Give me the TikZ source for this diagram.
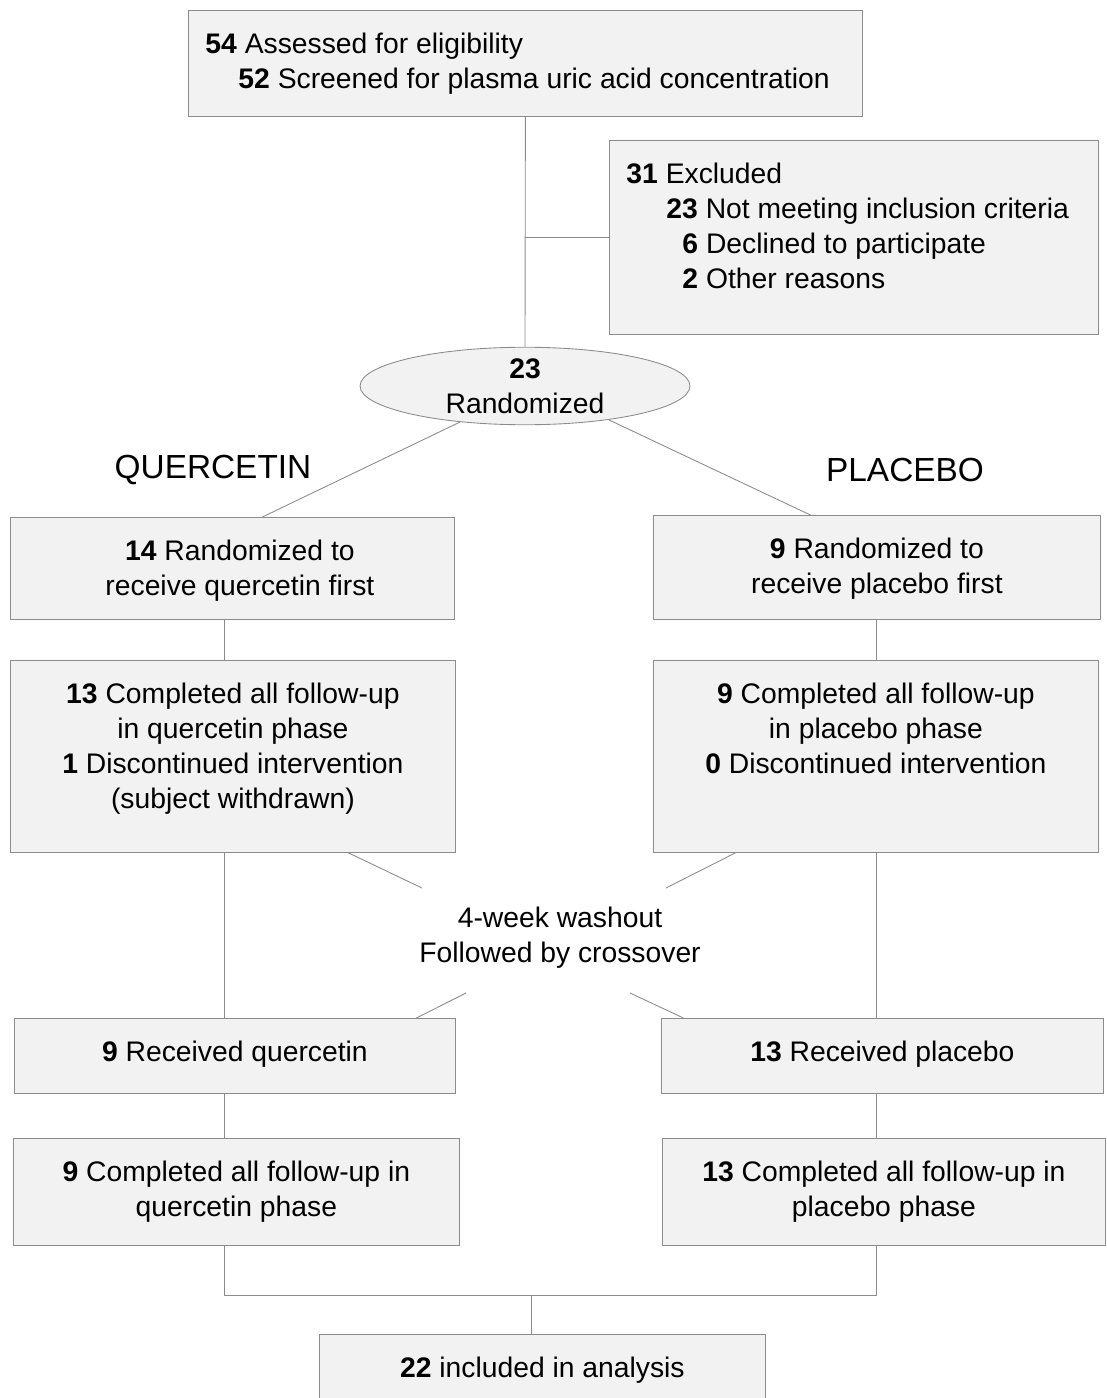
\documentclass[tikz,border=0pt]{standalone}
\usepackage{fontspec}
\setmainfont{Liberation Sans}
\usetikzlibrary{shapes.geometric}
\definecolor{boxfill}{HTML}{F2F2F2}
\definecolor{boxline}{HTML}{8C8C8C}
\tikzset{
  box/.style={draw=boxline, fill=boxfill, line width=0.5pt, inner sep=0pt, anchor=north west},
  link/.style={draw=boxline, line width=0.5pt},
  armlabel/.style={font=\fontsize{19}{23}\selectfont}
}
% box text: width, height, text (hangs from the top)
\newcommand{\boxtext}[3]{\parbox[t][#2][t]{#1}{\centering\vspace*{0.38cm}\strut#3}}
\begin{document}
\begin{tikzpicture}[x=0.02cm, y=-0.02cm, font=\fontsize{16.1}{19.8}\selectfont]
        \useasboundingbox (0,0) rectangle (1106,1398);

        % Enrolment
        \node[box] (assess) at (188,10) {\boxtext{13.48cm}{2.12cm}{\raggedright
          \hspace*{0.34cm}\textbf{54} Assessed for eligibility\\
          \hspace*{1.0cm}\textbf{52} Screened for plasma uric acid concentration}};
        \node[box] (excl) at (609,140) {\boxtext{9.78cm}{3.88cm}{\raggedright
          \hspace*{0.34cm}\textbf{31} Excluded\\
          \hspace*{1.14cm}\textbf{23} Not meeting inclusion criteria\\
          \hspace*{1.46cm}\textbf{6} Declined to participate\\
          \hspace*{1.46cm}\textbf{2} Other reasons}};
        \node[draw=boxline, fill=boxfill, line width=0.5pt, ellipse, inner sep=0pt,
          minimum width=6.6cm, minimum height=1.44cm, align=center] (rand) at (525,386)
          {\textbf{23}\\Randomized};

        \draw[link] (assess.south) -- (rand.north);
        \draw[link] (excl.west) -- (excl.west -| assess.south);

        % Arms
        \node[armlabel] (qlabel) at (213,470) {QUERCETIN};
        \node[armlabel] (plabel) at (905,470) {PLACEBO};
        \coordinate (qcol) at (224,0);
        \coordinate (pcol) at (876,0);

        % First period
        \node[box] (qrand) at (10,517) {\boxtext{8.88cm}{2.04cm}{\hspace*{0.3cm}\textbf{14} Randomized to\\
          \hspace*{0.3cm}receive quercetin first}};
        \node[box] (prand) at (653,515) {\boxtext{8.94cm}{2.08cm}{\textbf{9} Randomized to\\receive placebo first}};
        \node[box] (qdone) at (10,660) {\boxtext{8.9cm}{3.84cm}{\textbf{13} Completed all follow-up\\
          in quercetin phase\\\textbf{1} Discontinued intervention\\(subject withdrawn)}};
        \node[box] (pdone) at (653,660) {\boxtext{8.9cm}{3.84cm}{\textbf{9} Completed all follow-up\\
          in placebo phase\\\textbf{0} Discontinued intervention}};

        \draw[link] (rand.209) -- ([xshift=0.6cm]qrand.north);
        \draw[link] (rand.338) -- ([xshift=-1.33cm]prand.north);
        \draw[link] (qrand.south -| qcol) -- (qdone.north -| qcol);
        \draw[link] (prand.south -| pcol) -- (pdone.north -| pcol);

        % Washout
        \node[align=center] (wash) at (560,938) {4-week washout\\Followed by crossover};
        \coordinate (wq1) at (422,888);
        \coordinate (wp1) at (666,888);
        \coordinate (wq2) at (466,993);
        \coordinate (wp2) at (630,993);

        % Second period
        \node[box] (qrecv) at (14,1018) {\boxtext{8.82cm}{1.5cm}{\textbf{9} Received quercetin}};
        \node[box] (precv) at (661,1018) {\boxtext{8.84cm}{1.5cm}{\textbf{13} Received placebo}};
        \node[box] (qend) at (13,1138) {\boxtext{8.92cm}{2.14cm}{\textbf{9} Completed all follow-up in\\quercetin phase}};
        \node[box] (pend) at (662,1138) {\boxtext{8.86cm}{2.14cm}{\textbf{13} Completed all follow-up in\\placebo phase}};

        \draw[link] ([xshift=2.31cm]qdone.south) -- (wq1);
        \draw[link] ([xshift=-2.81cm]pdone.south) -- (wp1);
        \draw[link] (wq2) -- ([xshift=3.63cm]qrecv.north);
        \draw[link] (wp2) -- ([xshift=-3.98cm]precv.north);
        \draw[link] (qdone.south -| qcol) -- (qrecv.north -| qcol);
        \draw[link] (pdone.south -| pcol) -- (precv.north -| pcol);
        \draw[link] (qrecv.south -| qcol) -- (qend.north -| qcol);
        \draw[link] (precv.south -| pcol) -- (pend.north -| pcol);

        % Analysis
        \coordinate (merge) at (531,1295);
        \node[box] (final) at (319,1334) {\boxtext{8.92cm}{1.6cm}{\textbf{22} included in analysis}};

        \draw[link] (qend.south -| qcol) |- (merge) -| (pend.south -| pcol);
        \draw[link] (merge) -- (final.north -| merge);
    \end{tikzpicture}
\end{document}
